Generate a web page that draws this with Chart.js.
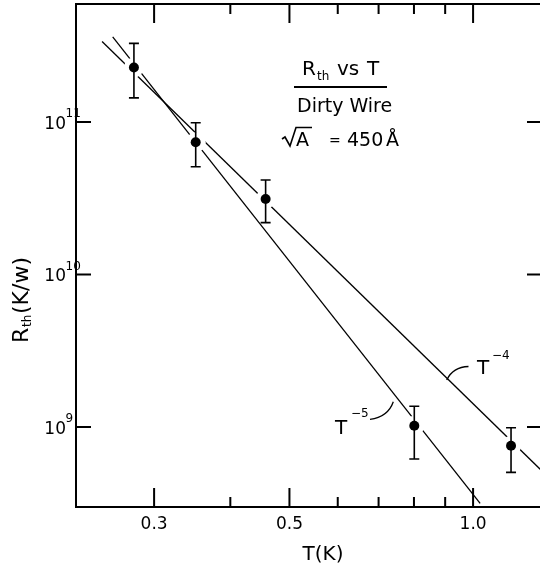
<!DOCTYPE html>
<html lang="en">
<head>
  <meta charset="UTF-8">
  <title>Rth vs T - Dirty Wire</title>
  <script src="https://cdn.jsdelivr.net/npm/chart.js"></script>
  <style>
    html, body {
      margin: 0;
      padding: 0;
      background: #fff;
      overflow: hidden;
    }
    #wrap {
      width: 540px;
      height: 565px;
      overflow: hidden;
    }
  </style>
</head>
<body>
  <div id="wrap">
    <canvas id="chart" width="550" height="565"></canvas>
  </div>

  <script>
    // measured points (T in K, Rth in K/W) with error bar ends
    const temps = [0.278, 0.351, 0.457, 0.801, 1.154];
    const rth = [2.28e11, 7.36e10, 3.13e10, 1.02e9, 7.54e8];
    const rthHigh = [3.28e11, 9.9e10, 4.17e10, 1.37e9, 9.9e8];
    const rthLow = [1.44e11, 5.09e10, 2.19e10, 6.17e8, 5.04e8];

    // end points of the two fitted power-law lines
    const lineT4 = [{ x: 0.2465, y: 3.37e11 }, { x: 1.302, y: 5.07e8 }];
    const lineT5 = [{ x: 0.2566, y: 3.62e11 }, { x: 1.027, y: 3.16e8 }];

    // axes
    const xTicks = [0.3, 0.4, 0.5, 0.6, 0.7, 0.8, 0.9, 1.0];
    const xLabels = { 0.3: '0.3', 0.5: '0.5', 1.0: '1.0' };
    const yTicks = [1e9, 1e10, 1e11];
    const yExp = ['9', '10', '11'];

    const FONT = '"DejaVu Sans", sans-serif';

    function txt(ctx, s, x, y, size, align) {
      ctx.font = size + 'px ' + FONT;
      ctx.textAlign = align || 'left';
      ctx.textBaseline = 'alphabetic';
      ctx.fillText(s, x, y);
    }

    const errorBars = {
      id: 'errorBars',
      beforeDatasetDraw(chart, args) {
        if (args.meta.label !== 'Rth') return;
        const ctx = chart.ctx, xs = chart.scales.x, ys = chart.scales.y;
        ctx.save();
        ctx.strokeStyle = '#000';
        ctx.lineWidth = 1.6;
        temps.forEach((t, i) => {
          const px = xs.getPixelForValue(t);
          const top = ys.getPixelForValue(rthHigh[i]);
          const bot = ys.getPixelForValue(rthLow[i]);
          ctx.beginPath();
          ctx.moveTo(px, top); ctx.lineTo(px, bot);
          ctx.moveTo(px - 5, top); ctx.lineTo(px + 5, top);
          ctx.moveTo(px - 5, bot); ctx.lineTo(px + 5, bot);
          ctx.stroke();
        });
        ctx.restore();
      }
    };

    const frame = {
      id: 'frame',
      afterDraw(chart) {
        const ctx = chart.ctx, a = chart.chartArea;
        const xs = chart.scales.x, ys = chart.scales.y;
        ctx.save();
        ctx.strokeStyle = '#000';
        ctx.fillStyle = '#000';
        ctx.lineWidth = 2;
        ctx.strokeRect(a.left, a.top, a.right - a.left, a.bottom - a.top);

        // inward ticks
        ctx.beginPath();
        xTicks.forEach(v => {
          const px = xs.getPixelForValue(v);
          const len = xLabels[v] ? 19 : 10;
          ctx.moveTo(px, a.bottom); ctx.lineTo(px, a.bottom - len);
          ctx.moveTo(px, a.top); ctx.lineTo(px, a.top + len);
        });
        yTicks.forEach(v => {
          const py = ys.getPixelForValue(v);
          ctx.moveTo(a.left, py); ctx.lineTo(a.left + 15, py);
          ctx.moveTo(a.right, py); ctx.lineTo(a.right - 16, py);
        });
        ctx.stroke();

        // tick labels
        xTicks.forEach(v => {
          if (xLabels[v]) txt(ctx, xLabels[v], xs.getPixelForValue(v), a.bottom + 21.5, 17, 'center');
        });
        yTicks.forEach((v, i) => {
          const py = ys.getPixelForValue(v);
          txt(ctx, '10', 66, py + 6.5, 17, 'right');
          txt(ctx, yExp[i], 65.5, py - 5, 12, 'left');
        });

        // axis titles
        txt(ctx, 'T(K)', 323, 560, 20, 'center');
        ctx.save();
        ctx.translate(28, 343);
        ctx.rotate(-Math.PI / 2);
        txt(ctx, 'R', 0, 0, 22);
        txt(ctx, 'th', 16, 3, 12);
        txt(ctx, '(K/w)', 29, 0, 22);
        ctx.restore();

        // caption block
        txt(ctx, 'R', 302, 75, 20);
        txt(ctx, 'th', 317, 80, 12);
        txt(ctx, 'vs', 337, 75, 20);
        txt(ctx, 'T', 367, 75, 20);
        ctx.beginPath();
        ctx.moveTo(294, 87); ctx.lineTo(387, 87);
        ctx.stroke();
        txt(ctx, 'Dirty Wire', 297, 112, 19);
        ctx.lineWidth = 1.6;
        ctx.beginPath();
        ctx.moveTo(282, 139); ctx.lineTo(285, 137); ctx.lineTo(290, 146);
        ctx.lineTo(296, 127.5); ctx.lineTo(312, 127.5);
        ctx.stroke();
        txt(ctx, 'A', 296, 146, 19);
        txt(ctx, '=', 329, 145, 14);
        txt(ctx, '450', 347, 146, 19);
        txt(ctx, 'Å', 386, 146, 19);

        // line labels with leaders
        ctx.lineWidth = 1.3;
        txt(ctx, 'T', 477, 373.5, 20);
        txt(ctx, '\u22124', 492, 359, 12);
        ctx.beginPath();
        ctx.moveTo(446.7, 380);
        ctx.quadraticCurveTo(453, 367, 468.5, 366.5);
        ctx.stroke();
        txt(ctx, 'T', 335, 433.5, 20);
        txt(ctx, '\u22125', 351, 417, 12);
        ctx.beginPath();
        ctx.moveTo(370, 419.3);
        ctx.quadraticCurveTo(388, 417, 393.3, 401.7);
        ctx.stroke();
        ctx.restore();
      }
    };

    const points = temps.map((t, i) => ({ x: t, y: rth[i] }));

    new Chart(document.getElementById('chart'), {
      type: 'scatter',
      data: {
        datasets: [
          {
            label: 'T-4',
            data: lineT4,
            showLine: true,
            borderColor: '#000',
            borderWidth: 1.3,
            pointRadius: 0,
            order: 4
          },
          {
            label: 'T-5',
            data: lineT5,
            showLine: true,
            borderColor: '#000',
            borderWidth: 1.3,
            pointRadius: 0,
            order: 3
          },
          {
            // white halo that breaks the lines around each point
            label: 'halo',
            data: points,
            pointRadius: 10,
            pointBackgroundColor: '#fff',
            pointBorderWidth: 0,
            order: 2
          },
          {
            label: 'Rth',
            data: points,
            pointRadius: 5,
            pointBackgroundColor: '#000',
            pointBorderColor: '#000',
            pointBorderWidth: 0,
            order: 1
          }
        ]
      },
      options: {
        responsive: false,
        animation: false,
        devicePixelRatio: 1,
        layout: { autoPadding: false, padding: { left: 76, top: 4, right: 7, bottom: 58 } },
        plugins: {
          legend: { display: false },
          tooltip: { enabled: false }
        },
        scales: {
          x: { type: 'logarithmic', min: 0.2234, max: 1.302, display: false },
          y: { type: 'logarithmic', min: 2.99e8, max: 5.94e11, display: false }
        }
      },
      plugins: [errorBars, frame]
    });
  </script>
</body>
</html>
